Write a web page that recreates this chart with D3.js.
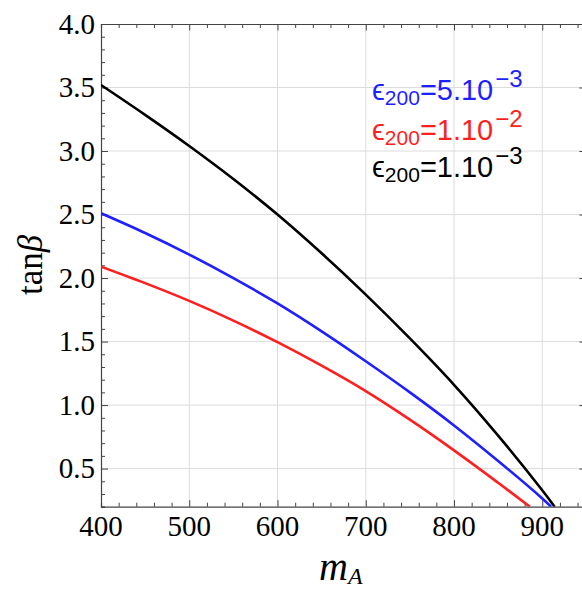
<!DOCTYPE html>
<html>
<head>
<meta charset="utf-8">
<script src="https://cdn.jsdelivr.net/npm/d3@7"></script>
<style>
  html, body { margin: 0; padding: 0; background: #fff; }
  svg { display: block; }
</style>
</head>
<body>
<svg id="chart" width="582" height="590"></svg>
<script>
// ---- data ----
const mA      = [400, 450, 500, 550, 600, 650, 700, 750, 800, 850, 900];
const blackTB = [3.52, 3.285, 3.04, 2.78, 2.50, 2.195, 1.87, 1.525, 1.16, 0.76, 0.33];
const blueTB  = [2.51, 2.355, 2.185, 2.00, 1.80, 1.58, 1.345, 1.10, 0.84, 0.56, 0.265];
const redTB   = [2.09, 1.96, 1.82, 1.665, 1.495, 1.31, 1.11, 0.885, 0.643, 0.388];
const blackEnd = [914, 0.2];
const blueEnd  = [910, 0.2];
const redEnd   = [886, 0.2];
const xTicks = [400, 500, 600, 700, 800, 900];
const yTicks = [0.5, 1.0, 1.5, 2.0, 2.5, 3.0, 3.5, 4.0];
const legendLabels = [
  {mant: "5.10", exp: "\u22123", color: "#1f1fff"},
  {mant: "1.10", exp: "\u22122", color: "#ff1f1f"},
  {mant: "1.10", exp: "\u22123", color: "#000000"}
];

// ---- layout ----
const svg = d3.select("#chart");
const L = 101, T = 24, R = 586.4, B = 506.7;
const x = d3.scaleLinear().domain([400, 950]).range([L, R]);
const y = d3.scaleLinear().domain([0.2, 4.0]).range([B, T]);

svg.append("defs").append("clipPath").attr("id", "clip")
  .append("rect").attr("x", L).attr("y", T).attr("width", R - L).attr("height", B - T);

// grid
const grid = svg.append("g").attr("stroke", "#dcdcdc").attr("stroke-width", 1);
xTicks.filter(d => d > 400).forEach(d => {
  grid.append("line").attr("x1", x(d)).attr("x2", x(d)).attr("y1", T).attr("y2", B);
});
yTicks.filter(d => d < 4.0).forEach(d => {
  grid.append("line").attr("x1", L).attr("x2", R).attr("y1", y(d)).attr("y2", y(d));
});

// axes with inward ticks (major + minor)
const frameColor = "#444";
function styleAxis(g) {
  g.select(".domain").attr("stroke", frameColor).attr("stroke-width", 1.2);
  g.selectAll(".tick line").attr("stroke", frameColor).attr("stroke-width", 1);
}
const xMinor = d3.range(400, 951, 20);
const yMinor = d3.range(2, 41, 1).map(d => d / 10);

const gb = svg.append("g").attr("transform", `translate(0,${B})`);
gb.call(d3.axisBottom(x).tickValues(xMinor).tickSize(-4).tickFormat(""));
gb.selectAll(".tick line").filter(d => d % 100 === 0).attr("y2", -6.5);
styleAxis(gb);
const gt = svg.append("g").attr("transform", `translate(0,${T})`);
gt.call(d3.axisTop(x).tickValues(xMinor).tickSize(-4).tickFormat(""));
gt.selectAll(".tick line").filter(d => d % 100 === 0).attr("y2", 6.5);
styleAxis(gt);
const gl = svg.append("g").attr("transform", `translate(${L},0)`);
gl.call(d3.axisLeft(y).tickValues(yMinor).tickSize(-4).tickFormat(""));
gl.selectAll(".tick line").filter(d => Math.abs(d * 2 - Math.round(d * 2)) < 1e-6).attr("x2", 7);
styleAxis(gl);
const gr = svg.append("g").attr("transform", `translate(${R},0)`);
gr.call(d3.axisRight(y).tickValues(yMinor).tickSize(-4).tickFormat(""));
gr.selectAll(".tick line").filter(d => Math.abs(d * 2 - Math.round(d * 2)) < 1e-6).attr("x2", -7);
styleAxis(gr);

// tick labels
const tickFont = "'Liberation Serif', 'Times New Roman', serif";
svg.append("g").selectAll("text").data(xTicks).join("text")
  .attr("x", d => x(d)).attr("y", 536)
  .attr("text-anchor", "middle")
  .attr("font-family", tickFont).attr("font-size", 29)
  .attr("fill", "#000")
  .text(d => d);
svg.append("g").selectAll("text").data(yTicks).join("text")
  .attr("x", 95).attr("y", d => y(d) + 9.8)
  .attr("text-anchor", "end")
  .attr("font-family", tickFont).attr("font-size", 29)
  .attr("fill", "#000")
  .text(d => d.toFixed(1));

// axis titles
const yt = svg.append("text")
  .attr("transform", "translate(42,265) rotate(-90)")
  .attr("text-anchor", "middle")
  .attr("font-family", tickFont).attr("font-size", 35).attr("fill", "#000");
yt.append("tspan").text("tan");
yt.append("tspan").attr("font-style", "italic").text("\u03B2");

const xt = svg.append("text")
  .attr("x", 319).attr("y", 580)
  .attr("font-family", tickFont).attr("font-size", 40)
  .attr("font-style", "italic").attr("fill", "#000");
xt.append("tspan").text("m");
xt.append("tspan").attr("font-size", 24).attr("dy", 4).text("A");

// curves
const line = d3.line().x(d => x(d[0])).y(d => y(d[1])).curve(d3.curveCatmullRom.alpha(0.5));
const series = [
  {vals: redTB, end: redEnd, color: "#ff1f1f"},
  {vals: blueTB, end: blueEnd, color: "#1f1fff"},
  {vals: blackTB, end: blackEnd, color: "#000000"}
];
const gc = svg.append("g").attr("clip-path", "url(#clip)");
series.forEach(s => {
  const pts = s.vals.map((v, i) => [mA[i], v]).concat([s.end]);
  gc.append("path").datum(pts)
    .attr("d", line)
    .attr("fill", "none")
    .attr("stroke", s.color)
    .attr("stroke-width", 2.6);
});

// legend
const legFont = "'Liberation Sans', Arial, 'DejaVu Sans', sans-serif";
const rowY = [100, 139.5, 177];
legendLabels.forEach((lab, i) => {
  const t = svg.append("text")
    .attr("x", 372).attr("y", rowY[i])
    .attr("font-family", legFont).attr("font-size", 29)
    .attr("fill", lab.color);
  t.append("tspan").text("\u03F5");
  t.append("tspan").attr("font-size", 21).attr("dy", 5).text("200");
  t.append("tspan").attr("dy", -5).text("=" + lab.mant);
  t.append("tspan").attr("font-size", 24).attr("dx", 2).attr("dy", -13).text(lab.exp);
});
</script>
</body>
</html>
